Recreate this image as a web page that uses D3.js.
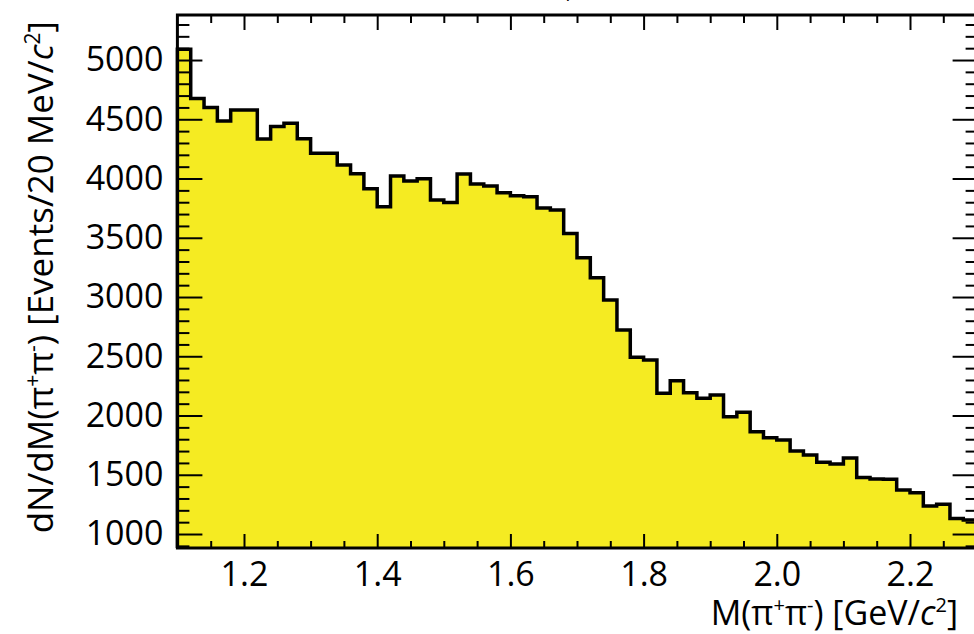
<!DOCTYPE html>
<html>
<head>
<meta charset="utf-8">
<script src="https://cdn.jsdelivr.net/npm/d3@7"></script>
<style>
  body { margin: 0; background: #fff; }
  svg { display: block; }
  text { font-family: "Open Sans", sans-serif; fill: #000; }
</style>
</head>
<body>
<svg width="974" height="634"></svg>
<script>
// Bin low edges (GeV/c^2), 20 MeV bins
let binLow = [1.10, 1.12, 1.14, 1.16, 1.18, 1.20, 1.22, 1.24, 1.26, 1.28,
              1.30, 1.32, 1.34, 1.36, 1.38, 1.40, 1.42, 1.44, 1.46, 1.48,
              1.50, 1.52, 1.54, 1.56, 1.58, 1.60, 1.62, 1.64, 1.66, 1.68,
              1.70, 1.72, 1.74, 1.76, 1.78, 1.80, 1.82, 1.84, 1.86, 1.88,
              1.90, 1.92, 1.94, 1.96, 1.98, 2.00, 2.02, 2.04, 2.06, 2.08,
              2.10, 2.12, 2.14, 2.16, 2.18, 2.20, 2.22, 2.24, 2.26, 2.28];
let binWidth = 0.02;

// Events per bin
let counts = [5090, 4675, 4600, 4485, 4578, 4578, 4333, 4440, 4466, 4336,
              4213, 4213, 4114, 4041, 3914, 3762, 4021, 3979, 3998, 3819,
              3797, 4038, 3954, 3937, 3880, 3855, 3847, 3751, 3734, 3537,
              3332, 3163, 2975, 2722, 2491, 2468, 2187, 2294, 2193, 2145,
              2173, 1990, 2027, 1863, 1813, 1793, 1700, 1667, 1605, 1591,
              1641, 1478, 1465, 1462, 1371, 1349, 1236, 1251, 1132, 1118];

// Tick values
let xMajor = [1.2, 1.4, 1.6, 1.8, 2.0, 2.2];
let xMinor = [1.15, 1.25, 1.3, 1.35, 1.45, 1.5, 1.55, 1.65, 1.7, 1.75, 1.85,
              1.9, 1.95, 2.05, 2.1, 2.15, 2.25];
let yMajor = [1000, 1500, 2000, 2500, 3000, 3500, 4000, 4500, 5000];
let yMinor = [900, 1100, 1200, 1300, 1400, 1600, 1700, 1800, 1900, 2100, 2200,
              2300, 2400, 2600, 2700, 2800, 2900, 3100, 3200, 3300, 3400, 3600,
              3700, 3800, 3900, 4100, 4200, 4300, 4400, 4600, 4700, 4800, 4900,
              5100, 5200, 5300];

let svg = d3.select("svg");

let pLeft = 177.4, pRight = 976.6, pTop = 15, pBottom = 548;
let yMin = 882, yMax = 5380;

let x = d3.scaleLinear().domain([1.1, 2.3]).range([pLeft, pRight]);
let y = d3.scaleLinear().domain([yMin, yMax]).range([pBottom, pTop]);

// step points for the histogram
let pts = [];
binLow.forEach(function(lo, i) {
  pts.push([lo, counts[i]]);
  pts.push([lo + binWidth, counts[i]]);
});

// yellow fill
svg.append("path")
  .datum(pts)
  .attr("fill", "#f5eb22")
  .attr("d", d3.area()
    .x(d => x(d[0]))
    .y0(y(yMin))
    .y1(d => y(d[1])));

// black outline
let outline = [[1.1, yMin]].concat(pts, [[2.3, yMin]]);
svg.append("path")
  .datum(outline)
  .attr("fill", "none")
  .attr("stroke", "#000")
  .attr("stroke-width", 3.5)
  .attr("stroke-linejoin", "miter")
  .attr("d", d3.line().x(d => x(d[0])).y(d => y(d[1])));

// axes (ticks point inward)
function styleAxis(g) {
  g.select(".domain").remove();
  g.selectAll(".tick line").attr("stroke", "#000").attr("stroke-width", 2);
  g.selectAll("text").attr("font-size", 34).attr("font-family", "'Open Sans', sans-serif");
}

svg.append("g")
  .attr("transform", `translate(${pLeft},0)`)
  .call(d3.axisLeft(y).tickValues(yMajor).tickSize(-25).tickPadding(14).tickFormat(d3.format("d")))
  .call(styleAxis);
svg.append("g")
  .attr("transform", `translate(${pLeft},0)`)
  .call(d3.axisLeft(y).tickValues(yMinor).tickSize(-12).tickFormat(""))
  .call(styleAxis);
svg.append("g")
  .attr("transform", `translate(${pRight},0)`)
  .call(d3.axisRight(y).tickValues(yMajor).tickSize(-24).tickFormat(""))
  .call(styleAxis);
svg.append("g")
  .attr("transform", `translate(${pRight},0)`)
  .call(d3.axisRight(y).tickValues(yMinor).tickSize(-11).tickFormat(""))
  .call(styleAxis);

svg.append("g")
  .attr("transform", `translate(0,${pBottom})`)
  .call(d3.axisBottom(x).tickValues(xMajor).tickSize(-14).tickPadding(14).tickFormat(d3.format(".1f")))
  .call(styleAxis);
svg.append("g")
  .attr("transform", `translate(0,${pBottom})`)
  .call(d3.axisBottom(x).tickValues(xMinor).tickSize(-7).tickFormat(""))
  .call(styleAxis);
svg.append("g")
  .attr("transform", `translate(0,${pTop})`)
  .call(d3.axisTop(x).tickValues(xMajor).tickSize(-15).tickFormat(""))
  .call(styleAxis);
svg.append("g")
  .attr("transform", `translate(0,${pTop})`)
  .call(d3.axisTop(x).tickValues(xMinor).tickSize(-8).tickFormat(""))
  .call(styleAxis);

// frame
svg.append("rect")
  .attr("x", pLeft).attr("y", pTop)
  .attr("width", pRight - pLeft).attr("height", pBottom - pTop)
  .attr("fill", "none")
  .attr("stroke", "#000")
  .attr("stroke-width", 3);

// axis titles
let xt = svg.append("text")
  .attr("x", 958).attr("y", 625)
  .attr("text-anchor", "end")
  .attr("font-size", 34);
xt.append("tspan").text("M(\u03c0");
xt.append("tspan").attr("font-size", 20).attr("dy", -13).text("+");
xt.append("tspan").attr("dy", 13).text("\u03c0");
xt.append("tspan").attr("font-size", 20).attr("dy", -13).text("-");
xt.append("tspan").attr("dy", 13).text(") [GeV/");
xt.append("tspan").attr("font-style", "italic").text("c");
xt.append("tspan").attr("font-size", 20).attr("dy", -13).text("2");
xt.append("tspan").attr("dy", 13).text("]");

let yt = svg.append("text")
  .attr("transform", "translate(53,21) rotate(-90)")
  .attr("text-anchor", "end")
  .attr("font-size", 35);
yt.append("tspan").text("dN/dM(\u03c0");
yt.append("tspan").attr("font-size", 21).attr("dy", -13).text("+");
yt.append("tspan").attr("dy", 13).text("\u03c0");
yt.append("tspan").attr("font-size", 21).attr("dy", -13).text("-");
yt.append("tspan").attr("dy", 13).text(") [Events/20 MeV/");
yt.append("tspan").attr("font-style", "italic").text("c");
yt.append("tspan").attr("font-size", 21).attr("dy", -13).text("2");
yt.append("tspan").attr("dy", 13).text("]");

// fragment of a title cut off above the plot
svg.append("text")
  .attr("x", 566).attr("y", -2)
  .attr("font-size", 24)
  .text(",");
</script>
</body>
</html>
